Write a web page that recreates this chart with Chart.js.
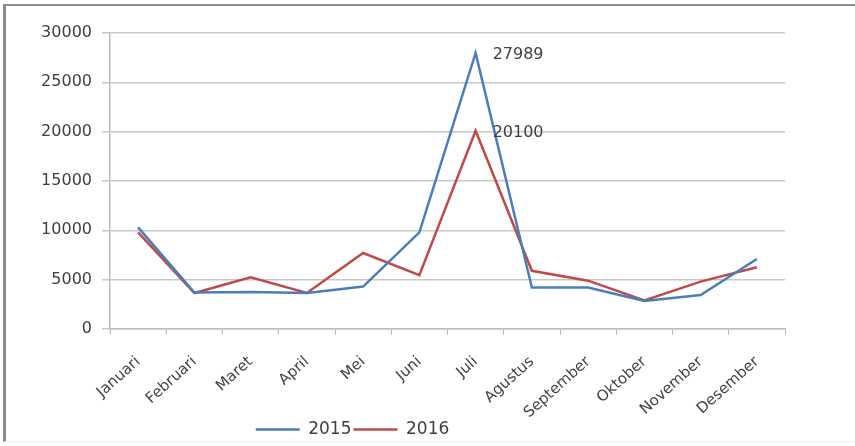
<!DOCTYPE html>
<html>
<head>
<meta charset="utf-8">
<script src="https://cdn.jsdelivr.net/npm/chart.js@4"></script>
<style>
  html, body { margin: 0; padding: 0; background: #fff; }
  #wrap { position: relative; width: 855px; height: 446px; overflow: hidden; }
  #frame { position: absolute; left: 3px; top: 4px; width: 860px; height: 438px;
           border-left: 3px solid #8c8c8c; border-top: 2px solid #8c8c8c;
           border-bottom: 1px solid #eee; box-sizing: border-box; pointer-events: none; }
  canvas { position: absolute; left: 0; top: 0; }
</style>
</head>
<body>
<div id="wrap">
  <canvas id="c" width="855" height="446"></canvas>
  <div id="frame"></div>
</div>
<script>
const months = ['Januari','Februari','Maret','April','Mei','Juni','Juli','Agustus','September','Oktober','November','Desember'];
const seriesNames = ['2015','2016'];
const values2015 = [10300, 3700, 3750, 3650, 4300, 9800, 27989, 4200, 4200, 2850, 3450, 7100];
const values2016 = [9800, 3650, 5250, 3650, 7700, 5450, 20100, 5900, 4900, 2900, 4800, 6250];
const yTicks = [0, 5000, 10000, 15000, 20000, 25000, 30000];
const labelledPoints = [[0, 6, '27989'], [1, 6, '20100']];

const FONT = "'DejaVu Sans', sans-serif";
const TXT = '#404040';

const dataLabelPlugin = {
  id: 'dataLabels',
  afterDatasetsDraw(chart) {
    const ctx = chart.ctx;
    ctx.save();
    ctx.font = '16px ' + FONT;
    ctx.fillStyle = TXT;
    ctx.textAlign = 'left';
    ctx.textBaseline = 'middle';
    labelledPoints.forEach(([ds, idx, text]) => {
      const pt = chart.getDatasetMeta(ds).data[idx];
      ctx.fillText(text, pt.x + 17, pt.y + 2);
    });
    ctx.restore();
  }
};

const legendShift = {
  id: 'legendShift',
  afterLayout(chart) {
    const lg = chart.legend;
    if (lg) { lg.left -= 45; lg.right -= 45; lg.top += 2; lg.bottom += 2; }
  }
};

new Chart(document.getElementById('c'), {
  type: 'line',
  data: {
    labels: months,
    datasets: [
      { label: seriesNames[0], data: values2015, borderColor: '#4a7ebb', backgroundColor: '#4a7ebb',
        borderWidth: 2.5, pointRadius: 0, tension: 0 },
      { label: seriesNames[1], data: values2016, borderColor: '#be4b48', backgroundColor: '#be4b48',
        borderWidth: 2.5, pointRadius: 0, tension: 0 }
    ]
  },
  options: {
    responsive: false,
    animation: false,
    devicePixelRatio: 1,
    layout: { padding: { left: 10, right: 70, top: 33, bottom: 0 } },
    plugins: {
      tooltip: { enabled: false },
      legend: {
        position: 'bottom',
        labels: {
          usePointStyle: true, pointStyle: 'line', pointStyleWidth: 44,
          boxHeight: 18, padding: 2,
          color: TXT, font: { size: 17, family: FONT }
        }
      }
    },
    scales: {
      x: {
        offset: true,
        grid: { display: true, drawOnChartArea: false, color: '#bdbdbd', tickLength: 6, offset: true },
        border: { color: '#bdbdbd', width: 1.5 },
        ticks: { color: TXT, font: { size: 15, family: FONT }, minRotation: 42, maxRotation: 42, padding: 18, autoSkip: false },
        afterFit(scale) { scale.height = 88; }
      },
      y: {
        min: 0, max: 30000,
        afterBuildTicks(scale) { scale.ticks = yTicks.map(v => ({ value: v })); },
        grid: { color: '#c8c8c8', lineWidth: 1.5, tickLength: 8 },
        border: { color: '#bdbdbd', width: 1.5 },
        ticks: { color: TXT, font: { size: 16, family: FONT }, padding: 10, callback: v => String(v) },
        afterFit(scale) { scale.width = 100; }
      }
    }
  },
  plugins: [dataLabelPlugin, legendShift]
});
</script>
</body>
</html>
